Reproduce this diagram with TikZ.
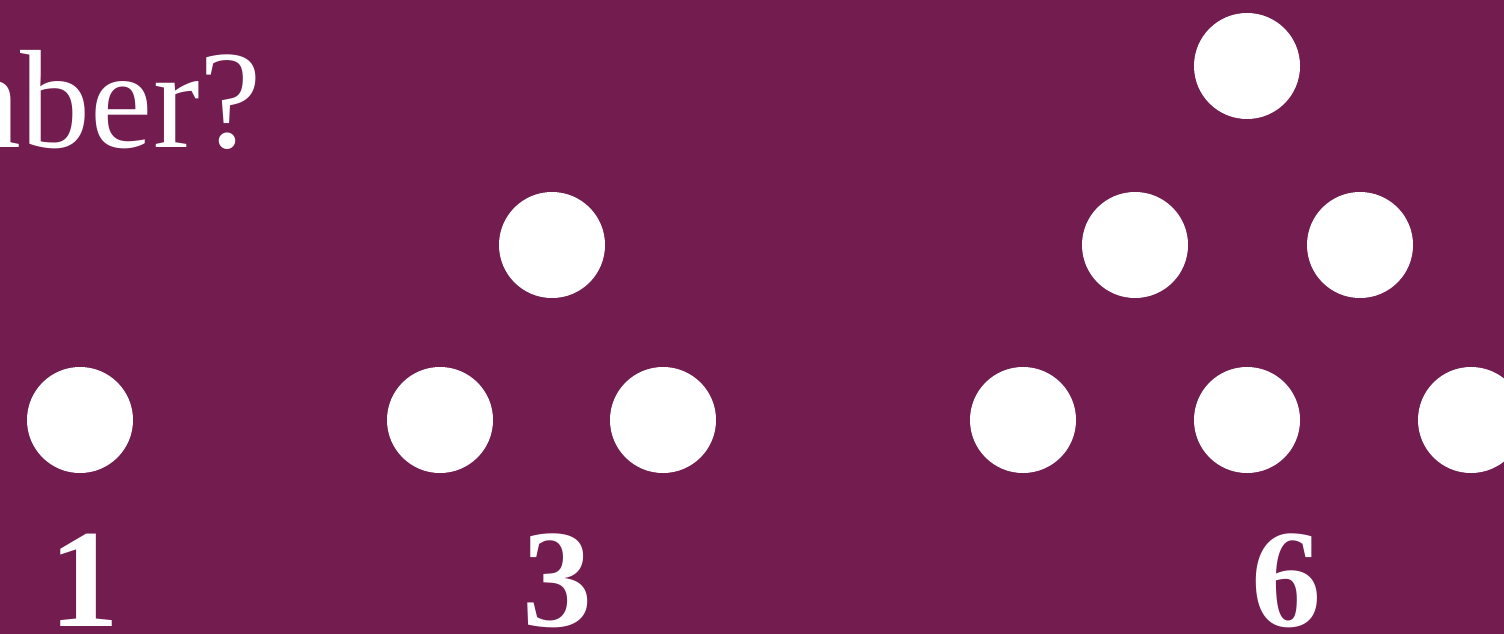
\documentclass[tikz,border=0pt]{standalone}
\usepackage{fontspec}
\setmainfont{Liberation Serif}
\definecolor{bgplum}{RGB}{114,28,80}
\tikzset{
  dot/.style={circle,fill=white,draw=none,minimum size=106pt,inner sep=0pt},
  numlabel/.style={text=white,font=\fontsize{140}{140}\selectfont\bfseries,inner sep=0pt,anchor=base},
  title/.style={text=white,font=\fontsize{140}{140}\selectfont,inner sep=0pt,anchor=base east}
}
\begin{document}
\begin{tikzpicture}[x=1pt,y=-1pt]
\useasboundingbox (0,0) rectangle (1504,634);
\clip (0,0) rectangle (1504,634);
\fill[bgplum] (0,0) rectangle (1504,634);
\node[title] (ttl) at (262,147) {number?};
% one
\node[dot] (a1) at (80,420) {};
% three
\node[dot] (b1) at (552,245) {};
\node[dot] (b2) at (440,420) {};
\node[dot] (b3) at (663,420) {};
% six
\node[dot] (c1) at (1247,66) {};
\node[dot] (c2) at (1135,245) {};
\node[dot] (c3) at (1360,245) {};
\node[dot] (c4) at (1023,420) {};
\node[dot] (c5) at (1247,420) {};
\node[dot] (c6) at (1471,420) {};
% labels
\node[numlabel] (n1) at (84,626) {1};
\node[numlabel] (n3) at (557,626) {3};
\node[numlabel] (n6) at (1286,626) {6};
\end{tikzpicture}
\end{document}
